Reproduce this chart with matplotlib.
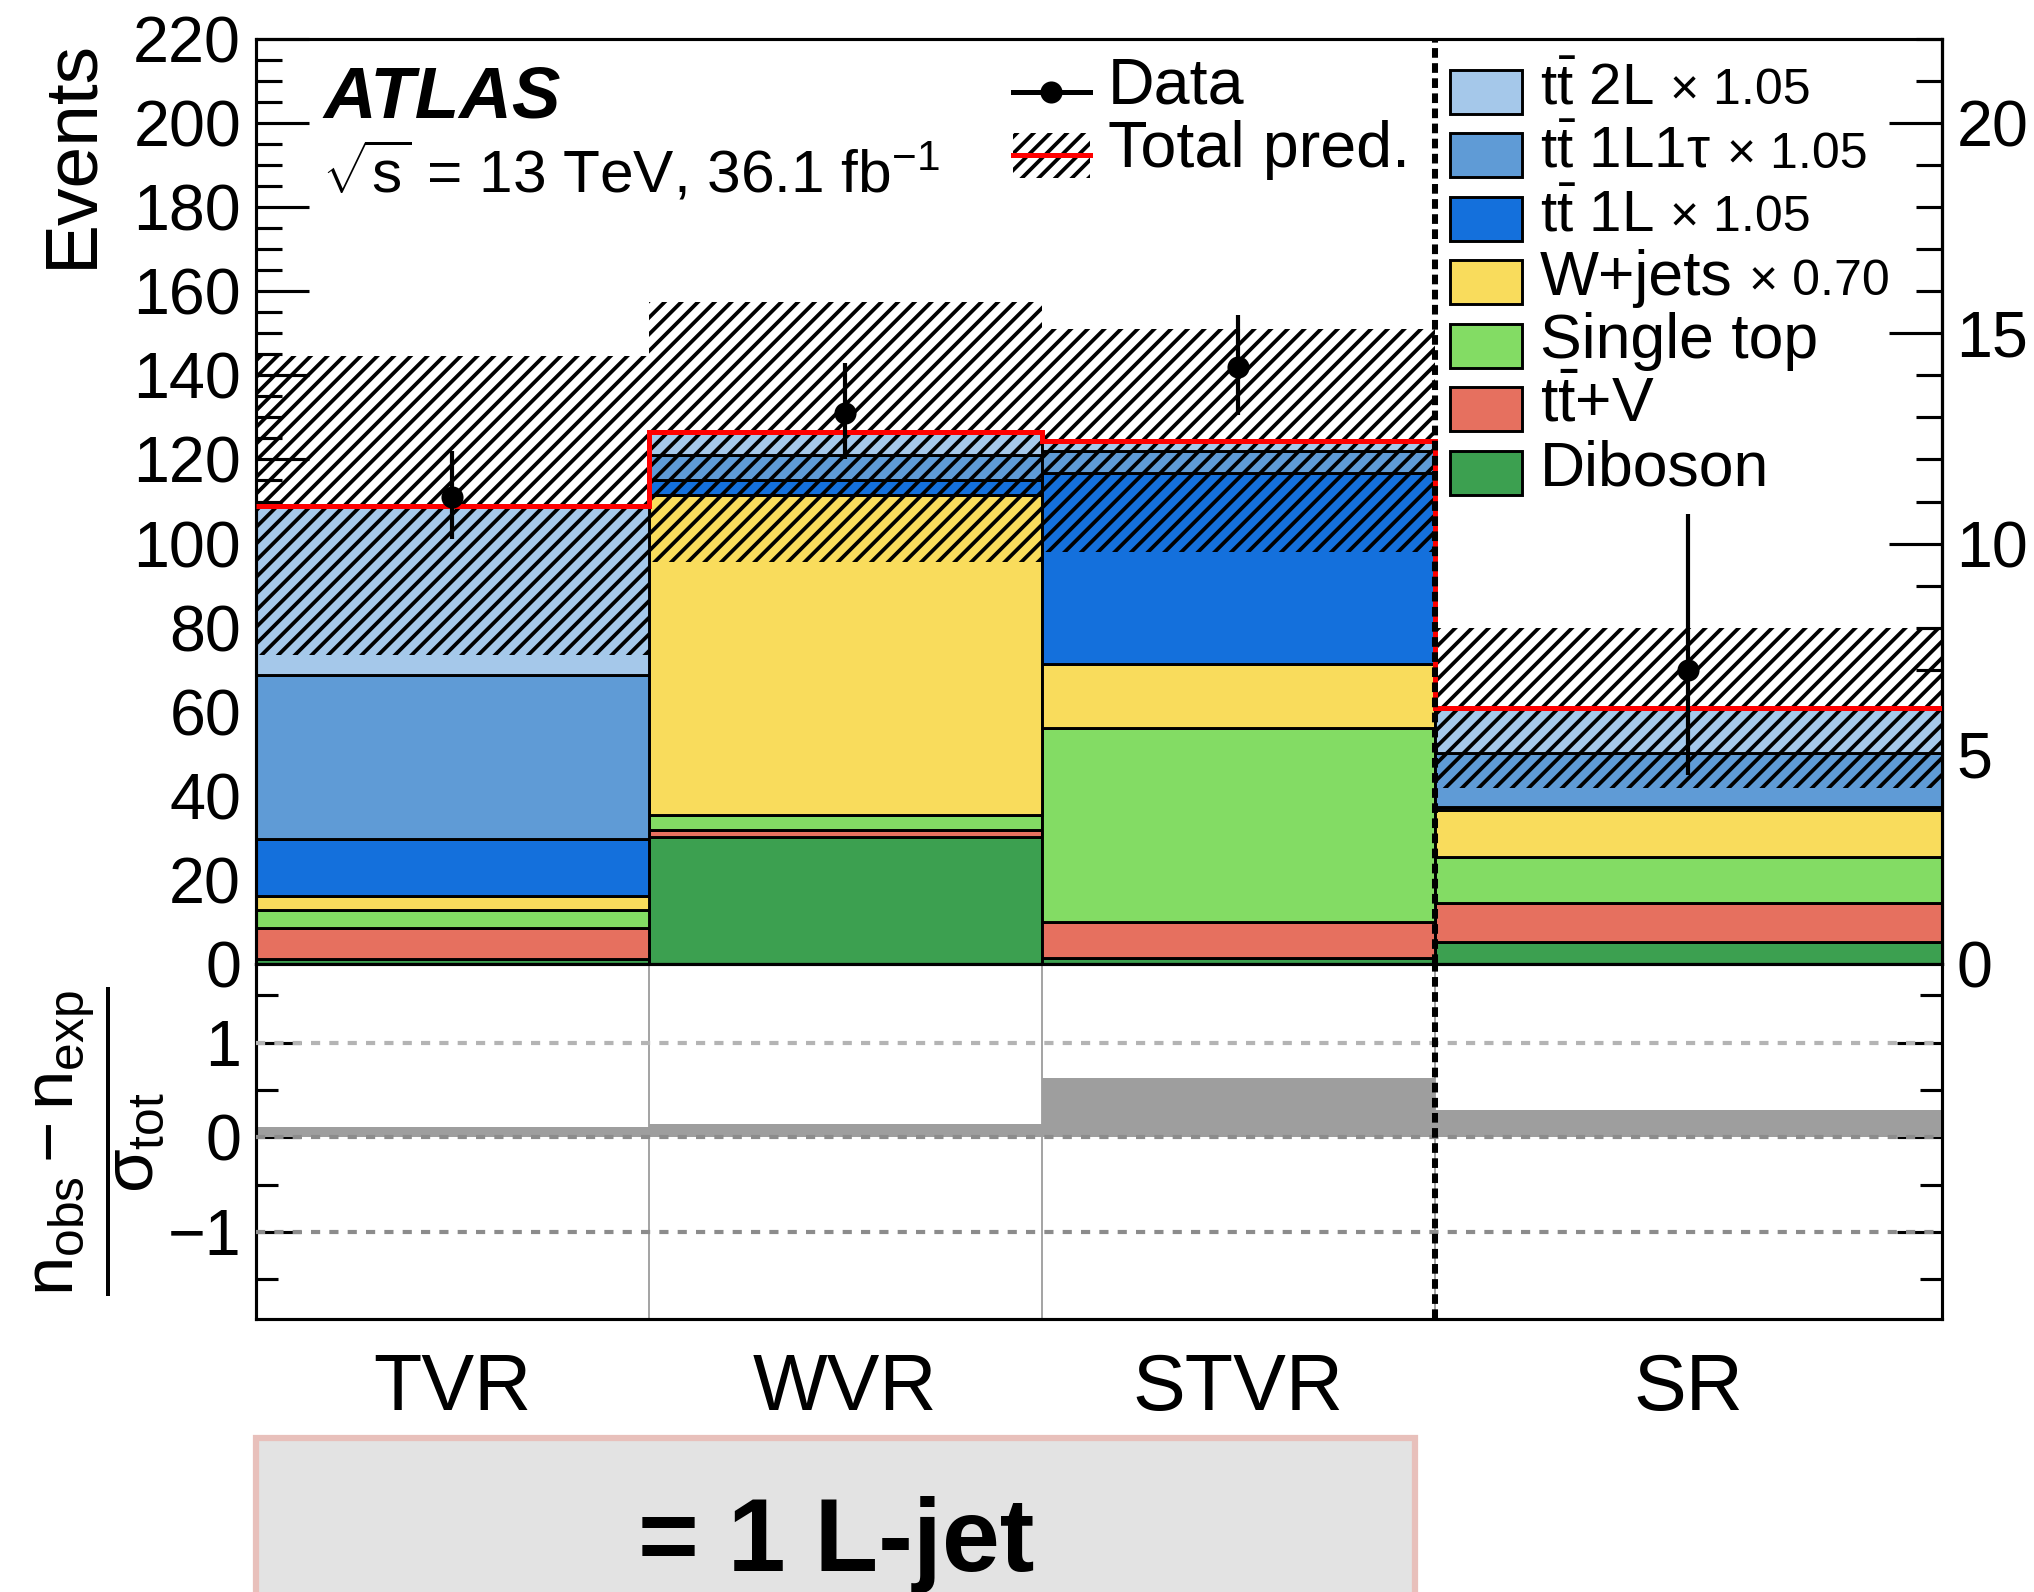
import matplotlib
matplotlib.use("Agg")
import matplotlib.pyplot as plt
from matplotlib.patches import Rectangle
from matplotlib.lines import Line2D
from matplotlib.ticker import MultipleLocator
import numpy as np

plt.rcParams['font.family'] = ['Liberation Sans', 'DejaVu Sans']
plt.rcParams['mathtext.fontset'] = 'custom'
plt.rcParams['mathtext.rm'] = 'Liberation Sans'
plt.rcParams['mathtext.it'] = 'Liberation Sans'
plt.rcParams['mathtext.bf'] = 'Liberation Sans:bold'
plt.rcParams['hatch.linewidth'] = 1.8

# ---- data (SR values are read on the right-hand axis) ----
regions = ["TVR", "WVR", "STVR", "SR"]
diboson = [1.3, 30.3, 1.4, 0.53]
ttv = [7.2, 1.6, 8.7, 0.91]
single_top = [4.3, 3.5, 46.0, 1.11]
wjets = [3.4, 76.2, 15.3, 1.11]
tt_1l = [13.5, 3.4, 45.3, 0.08]
tt_1l1tau = [39.0, 6.0, 5.4, 1.27]
tt_2l = [40.3, 5.5, 2.4, 1.07]
total_err = [35.5, 31.0, 26.5, 1.9]
data = [111, 131, 142, 7]
data_err_lo = [10.0, 10.8, 11.4, 2.5]
data_err_hi = [11.0, 11.9, 12.4, 3.7]
significance = [0.11, 0.14, 0.63, 0.29]

sr_scale = 10.0  # right axis = left axis / 10, used for SR
bin_edges = np.array([0, 1, 2, 3, 4.29])

# (label, values, colour) drawn bottom -> top
components = [
    ("Diboson", diboson, "#3ca050"),
    (r"$t\bar{t}$+V", ttv, "#e6705f"),
    ("Single top", single_top, "#83dc64"),
    ("W+jets", wjets, "#f9dc5c"),
    (r"$t\bar{t}$ 1L", tt_1l, "#1470dc"),
    (r"$t\bar{t}$ 1L1$\tau$", tt_1l1tau, "#5f9bd6"),
    (r"$t\bar{t}$ 2L", tt_2l, "#a5c8ea"),
]

W_PX, H_PX = 2034, 1592
fig = plt.figure(figsize=(W_PX / 150, H_PX / 150), dpi=150)


def fx(px):
    return px / W_PX


def fy(py):
    return 1 - py / H_PX


ax = fig.add_axes([fx(255.6), fy(964), fx(1942) - fx(255.6), fy(39) - fy(964)])
axr = fig.add_axes([fx(255.6), fy(1319), fx(1942) - fx(255.6), fy(964) - fy(1319)])

scale = np.array([1, 1, 1, sr_scale])
left = bin_edges[:-1]
widths = np.diff(bin_edges)
centers = left + widths / 2

# stacked backgrounds
bottom = np.zeros(4)
for label, vals, col in components:
    h = np.array(vals) * scale
    ax.bar(left, h, width=widths, bottom=bottom, align='edge', color=col,
           edgecolor='black', linewidth=1.4, zorder=2)
    bottom = bottom + h
total = bottom

# uncertainty band
err = np.array(total_err) * scale
ax.bar(left, 2 * err, width=widths, bottom=total - err, align='edge',
       fill=False, hatch='///', edgecolor='black', linewidth=0, zorder=3)
ax.stairs(total, bin_edges, baseline=None, color='red', linewidth=2.4, zorder=4)

# data
ax.errorbar(centers, np.array(data) * scale,
            yerr=[np.array(data_err_lo) * scale, np.array(data_err_hi) * scale],
            fmt='o', color='black', ms=9.6, elinewidth=2, capsize=0, zorder=6)

ax.axvline(3, color='black', lw=2.9, ls=(0, (1.6, 0.9)), zorder=5)

ax.set_xlim(bin_edges[0], bin_edges[-1])
ax.set_ylim(0, 220)
ax.yaxis.set_major_locator(MultipleLocator(20))
ax.yaxis.set_minor_locator(MultipleLocator(5))
ax.tick_params(axis='y', which='major', direction='in', length=25.5, width=1.5,
               labelsize=31, pad=7, right=False)
ax.tick_params(axis='y', which='minor', direction='in', length=12.5, width=1.5, right=False)
ax.tick_params(axis='x', which='both', length=0, labelbottom=False)
for sp in ax.spines.values():
    sp.set_linewidth(1.5)

sec = ax.secondary_yaxis('right', functions=(lambda y: y / sr_scale, lambda y: y * sr_scale))
sec.set_yticks([0, 5, 10, 15, 20])
sec.yaxis.set_minor_locator(MultipleLocator(1))
sec.tick_params(axis='y', which='major', direction='in', length=25.5, width=1.5,
                labelsize=31, pad=7)
sec.tick_params(axis='y', which='minor', direction='in', length=12.5, width=1.5)
sec.spines['right'].set_linewidth(1.5)

# ---- lower panel ----
axr.bar(left, significance, width=widths, align='edge', color='#9e9e9e', linewidth=0, zorder=2)
axr.axhline(1, color='#b4b4b4', lw=2, ls=(0, (2.2, 2.2)), zorder=3)
axr.axhline(0, color='#8c8c8c', lw=2, ls=(0, (2.2, 2.2)), zorder=3)
axr.axhline(-1, color='#8c8c8c', lw=2, ls=(0, (2.2, 2.2)), zorder=3)
for xb in bin_edges[1:-1]:
    axr.axvline(xb, color='#a0a0a0', lw=0.9, zorder=1)
axr.axvline(3, color='black', lw=2.9, ls=(0, (1.6, 0.9)), zorder=5)
axr.set_xlim(bin_edges[0], bin_edges[-1])
axr.set_ylim(-1.92, 1.83)
axr.set_yticks([-1, 0, 1])
axr.yaxis.set_minor_locator(MultipleLocator(0.5))
axr.tick_params(axis='y', which='major', direction='in', length=21.5, width=1.5,
                labelsize=31, pad=7, right=True)
axr.tick_params(axis='y', which='minor', direction='in', length=10.5, width=1.5, right=True)
axr.set_xticks(centers)
axr.set_xticklabels(regions, fontsize=38)
axr.tick_params(axis='x', length=0, pad=16)
for sp in axr.spines.values():
    sp.set_linewidth(1.5)

# ---- labels ----
fig.text(fx(72), fy(39), "Events", rotation=90, ha='center', va='top', fontsize=36)
fig.text(fx(100), fy(1141),
         r"$\dfrac{n_{\rm obs} - n_{\rm exp}}{\sigma_{\rm tot}}$",
         rotation=90, ha='center', va='center', fontsize=34)
fig.text(fx(324), fy(118), "ATLAS", fontsize=35, fontweight='bold', fontstyle='italic',
         va='baseline')
fig.text(fx(322), fy(193), r"$\sqrt{s}$ = 13 TeV, 36.1 fb$^{-1}$", fontsize=29, va='baseline')

# legend: data + total prediction
fig.add_artist(Line2D([fx(1013), fx(1090)], [fy(91.7)] * 2, color='black', lw=2.4,
                      transform=fig.transFigure))
fig.add_artist(Line2D([fx(1051)], [fy(91.7)], color='black', marker='o', ms=9.6,
                      transform=fig.transFigure))
fig.text(fx(1108), fy(103), "Data", fontsize=31, va='baseline')
fig.add_artist(Rectangle((fx(1013), fy(178)), fx(1090) - fx(1013), fy(133) - fy(178),
                         transform=fig.transFigure, fill=False, hatch='///',
                         edgecolor='black', linewidth=0))
fig.add_artist(Line2D([fx(1013), fx(1090)], [fy(155)] * 2, color='red', lw=2.4,
                      transform=fig.transFigure))
fig.text(fx(1108), fy(167), "Total pred.", fontsize=31, va='baseline')

# legend: backgrounds, top -> bottom
factors = {r"$t\bar{t}$ 2L": "× 1.05", r"$t\bar{t}$ 1L1$\tau$": "× 1.05",
           r"$t\bar{t}$ 1L": "× 1.05", "W+jets": "× 0.70"}
for i, (label, vals, col) in enumerate(components[::-1]):
    c = 91.7 + i * 63.5
    fig.add_artist(Rectangle((fx(1450), fy(c + 22)), fx(1522) - fx(1450), 44 / H_PX,
                             transform=fig.transFigure, facecolor=col,
                             edgecolor='black', linewidth=1.4))
    size = 28 if label.startswith('$t') and label != r"$t\bar{t}$+V" else 30
    t1 = fig.text(fx(1540), fy(c + 12.5), label, fontsize=size, va='baseline')
    if label in factors:
        ax.annotate(factors[label], xy=(1, fy(c + 12.5)), xycoords=(t1, 'figure fraction'),
                    xytext=(8, 0), textcoords='offset points', fontsize=24,
                    va='baseline', ha='left', annotation_clip=False)

# bottom box
fig.add_artist(Rectangle((fx(256), -0.02), fx(1415) - fx(256), fy(1438) + 0.02,
                         transform=fig.transFigure, facecolor='#e3e3e3',
                         edgecolor='#e8c0bb', linewidth=3))
fig.text(fx(836), fy(1571), "= 1 L-jet", fontsize=50, fontweight='bold',
         ha='center', va='baseline')

fig.savefig("out.png", dpi=150)
